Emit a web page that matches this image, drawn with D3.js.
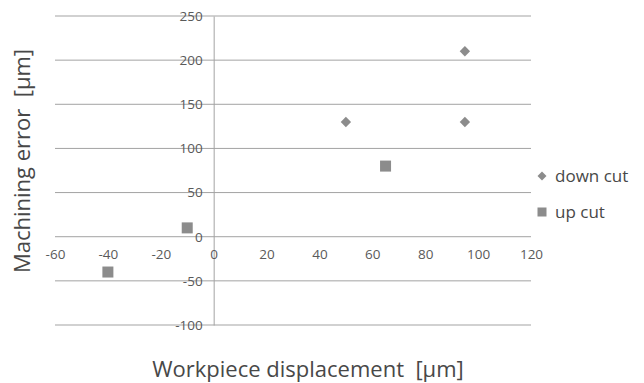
<!DOCTYPE html>
<html><head><meta charset="utf-8">
<script src="https://cdn.jsdelivr.net/npm/d3@7"></script>
<style>body{margin:0;background:#fff}svg{display:block}text{white-space:pre}</style>
</head><body>
<script>
const downX = [50, 95, 95];
const downY = [130, 210, 130];
const upX = [-10, -40, 65];
const upY = [10, -40, 80];
const xTicks = [-60, -40, -20, 0, 20, 40, 60, 80, 100, 120];
const yTicks = [-100, -50, 0, 50, 100, 150, 200, 250];
const seriesNames = ["down cut", "up cut"];

const W = 644, H = 383;
const svg = d3.select("body").append("svg").attr("width", W).attr("height", H);
const font = "'Open Sans', 'Noto Sans', sans-serif";
const x = d3.scaleLinear().domain([-60, 120]).range([55, 531]);
const y = d3.scaleLinear().domain([-100, 250]).range([325, 16]);
const gridCol = "#a3a3a3", txtCol = "#5a5a5a", markCol = "#8c8c8c", titleCol = "#484848";
const fmt = d => String(d);

// gridlines
svg.append("g").selectAll("line").data(yTicks).join("line")
  .attr("x1", x(-60)).attr("x2", x(120))
  .attr("y1", d => y(d)).attr("y2", d => y(d))
  .attr("stroke", gridCol).attr("stroke-width", 1);

// vertical axis at x = 0
const yAxis = d3.axisLeft(y).tickValues(yTicks).tickSize(0).tickPadding(11).tickFormat(fmt);
const gy = svg.append("g").attr("transform", `translate(${x(0)},0)`).call(yAxis);
gy.select(".domain").attr("stroke", gridCol);
gy.selectAll("text").attr("fill", txtCol).style("font-family", font).style("font-size", "13.5px");

// horizontal axis at y = 0 (labels only)
const xAxis = d3.axisBottom(x).tickValues(xTicks).tickSize(0).tickPadding(13).tickFormat(fmt);
const gx = svg.append("g").attr("transform", `translate(0,${y(0)})`).call(xAxis);
gx.select(".domain").remove();
gx.selectAll("text").attr("fill", txtCol).style("font-family", font).style("font-size", "13.5px");

// markers
const dm = 5.2;
const diamondPath = `M0,${-dm}L${dm},0L0,${dm}L${-dm},0Z`;
svg.append("g").selectAll("path").data(downX.map((v, i) => [v, downY[i]])).join("path")
  .attr("d", diamondPath).attr("transform", d => `translate(${x(d[0])},${y(d[1])})`)
  .attr("fill", markCol);
const sq = 11;
svg.append("g").selectAll("rect").data(upX.map((v, i) => [v, upY[i]])).join("rect")
  .attr("x", d => x(d[0]) - sq / 2).attr("y", d => y(d[1]) - sq / 2)
  .attr("width", sq).attr("height", sq).attr("fill", markCol);

// legend
const lg = svg.append("g");
const ly = [176, 212];
const ld = 4.5;
lg.append("path").attr("d", `M0,${-ld}L${ld},0L0,${ld}L${-ld},0Z`).attr("transform", `translate(542,${ly[0]})`).attr("fill", markCol);
lg.append("rect").attr("x", 542 - 4.5).attr("y", ly[1] - 4.5).attr("width", 9).attr("height", 9).attr("fill", markCol);
lg.selectAll("text").data(seriesNames).join("text")
  .attr("x", 555).attr("y", (d, i) => ly[i]).attr("dy", "0.35em")
  .attr("fill", titleCol).style("font-family", font).style("font-size", "17px").text(d => d);

// axis titles
svg.append("text").attr("x", 308).attr("y", 377).attr("text-anchor", "middle")
  .attr("fill", titleCol).style("font-family", font).style("font-size", "22px")
  .text("Workpiece displacement  [μm]");
svg.append("text").attr("transform", "translate(30,161) rotate(-90)").attr("text-anchor", "middle")
  .attr("fill", titleCol).style("font-family", font).style("font-size", "22px")
  .text("Machining error  [μm]");
</script>
</body></html>
